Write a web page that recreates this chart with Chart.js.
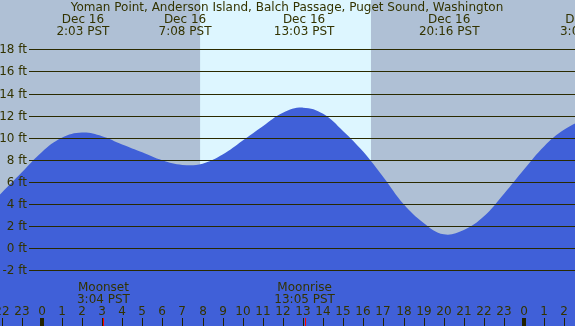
<!DOCTYPE html>
<html lang="en">
<head>
  <meta charset="UTF-8" />
  <title>Yoman Point tide</title>
  <script src="https://cdn.jsdelivr.net/npm/chart.js"></script>
  <style>
    body { margin: 0; background: #afc0d5; }
    .wrap { width: 575px; height: 326px; position: relative; }
  </style>
</head>
<body>
  <div class="wrap"><canvas id="tide"></canvas></div>

  <script>
    // hours since Dec 16 00:00 PST, tide height in ft
    const tideHours = [-3, -2, -1, 0, 1, 2, 3, 4, 5, 6, 7, 8, 9, 10, 11, 12, 13, 14, 15, 16, 17, 18, 19, 20, 21, 22, 23, 24, 25, 26, 27, 28];
    const tideFt = [3.1, 5.0, 6.85, 8.7, 10.0, 10.47, 10.15, 9.4, 8.7, 7.97, 7.55, 7.66, 8.48, 9.75, 11.05, 12.27, 12.73, 12.18, 10.6, 8.73, 6.42, 4.0, 2.3, 1.27, 1.66, 2.9, 4.94, 7.15, 9.24, 10.75, 11.5, 11.0];

    const title = "Yoman Point, Anderson Island, Balch Passage, Puget Sound, Washington";
    const eventHours = [2.05, 7.13, 13.05, 20.27, 27.1];
    const eventDays = ["Dec 16", "Dec 16", "Dec 16", "Dec 16", "Dec 17"];
    const eventTimes = ["2:03 PST", "7:08 PST", "13:03 PST", "20:16 PST", "3:06 PST"];

    const moonHours = [3.07, 13.08];
    const moonNames = ["Moonset", "Moonrise"];
    const moonTimes = ["3:04 PST", "13:05 PST"];

    const sunrise = 7.88, sunset = 16.38;
    const hourTicks = [-2, -1, 0, 1, 2, 3, 4, 5, 6, 7, 8, 9, 10, 11, 12, 13, 14, 15, 16, 17, 18, 19, 20, 21, 22, 23, 24, 25, 26];
    const ftTicks = [-2, 0, 2, 4, 6, 8, 10, 12, 14, 16, 18];

    const FONT = "12px 'DejaVu Sans', sans-serif";
    const TEXT = "#333300";

    const tidePlugin = {
      id: "tideDecor",
      beforeDatasetsDraw(chart) {
        const { ctx, scales: { x } } = chart;
        const w = chart.width, h = chart.height;
        ctx.save();
        ctx.fillStyle = "#afc0d5";
        ctx.fillRect(0, 0, w, h);
        ctx.fillStyle = "#ddf6ff";
        const x1 = x.getPixelForValue(sunrise), x2 = x.getPixelForValue(sunset);
        ctx.fillRect(x1, 0, x2 - x1, h);
        ctx.restore();
      },
      afterDatasetsDraw(chart) {
        const { ctx, scales: { x, y } } = chart;
        const w = chart.width;
        ctx.save();
        ctx.font = FONT;
        ctx.textBaseline = "middle";

        // horizontal ft lines + labels
        ftTicks.forEach(v => {
          const py = Math.round(y.getPixelForValue(v)) + 0.5;
          ctx.strokeStyle = "#2a2a00";
          ctx.lineWidth = 1;
          ctx.beginPath();
          ctx.moveTo(29, py);
          ctx.lineTo(w, py);
          ctx.stroke();
          ctx.fillStyle = TEXT;
          ctx.textAlign = "right";
          ctx.fillText(v + " ft", 27, py);
        });

        // header
        ctx.textAlign = "center";
        ctx.fillStyle = TEXT;
        ctx.fillText(title, 287, 7.5);
        eventHours.forEach((eh, i) => {
          const px = x.getPixelForValue(eh);
          ctx.fillText(eventDays[i], px, 19.5);
          ctx.fillText(eventTimes[i], px, 31.5);
        });

        // moon
        moonHours.forEach((mh, i) => {
          const px = x.getPixelForValue(mh);
          ctx.fillText(moonNames[i], px, 287.5);
          ctx.fillText(moonTimes[i], px, 299.5);
        });

        // hour labels and ticks
        hourTicks.forEach(hh => {
          const px = Math.round(x.getPixelForValue(hh));
          const lbl = ((hh % 24) + 24) % 24;
          ctx.fillStyle = TEXT;
          ctx.fillText(String(lbl), px, 312);
          ctx.fillStyle = "#222200";
          if (lbl === 0) ctx.fillRect(px - 2, 318, 4, 8);
          else ctx.fillRect(px, 318, 1, 8);
        });
        moonHours.forEach(mh => {
          const px = Math.round(x.getPixelForValue(mh));
          ctx.fillStyle = "#ff0000";
          ctx.fillRect(px, 318, 1, 8);
        });
        ctx.restore();
      }
    };

    new Chart(document.getElementById("tide"), {
      type: "line",
      data: {
        datasets: [{
          data: tideHours.map((hh, i) => ({ x: hh, y: tideFt[i] })),
          backgroundColor: "#4060d8",
          borderWidth: 0,
          pointRadius: 0,
          fill: "start",
          tension: 0.4
        }]
      },
      options: {
        responsive: true,
        maintainAspectRatio: false,
        animation: false,
        layout: { padding: 0 },
        plugins: { legend: { display: false }, tooltip: { enabled: false } },
        scales: {
          x: { type: "linear", min: -2.075, max: 26.53, display: false },
          y: { min: -7.03, max: 22.47, display: false }
        }
      },
      plugins: [tidePlugin]
    });
  </script>
</body>
</html>
